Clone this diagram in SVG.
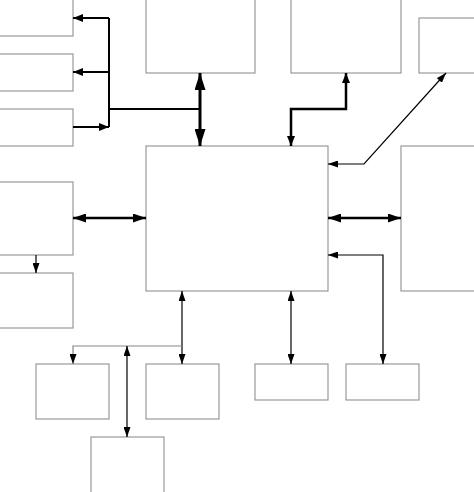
<svg xmlns="http://www.w3.org/2000/svg" width="474" height="492" viewBox="0 0 474 492">
<style>
.box{fill:#fff;stroke:#999;stroke-width:1.2}
.thin{fill:none;stroke:#000;stroke-width:1.2}
.grey{fill:none;stroke:#888;stroke-width:1.2}
.thick{fill:none;stroke:#000;stroke-width:2}
.thick2{fill:none;stroke:#000;stroke-width:2.5}
.thick3{fill:none;stroke:#000;stroke-width:3}
</style>
<defs>
<marker id="a" markerUnits="userSpaceOnUse" markerWidth="10" markerHeight="7" refX="10" refY="3.5" orient="auto-start-reverse"><path d="M0,0 L10,3.5 L0,7 z" fill="#000"/></marker>
<marker id="b" markerUnits="userSpaceOnUse" markerWidth="10" markerHeight="8" refX="10" refY="4" orient="auto-start-reverse"><path d="M0,0 L10,4 L0,8 z" fill="#000"/></marker>
<marker id="c" markerUnits="userSpaceOnUse" markerWidth="17" markerHeight="11" refX="17" refY="5.5" orient="auto-start-reverse"><path d="M0,0 L17,5.5 L0,11 z" fill="#000"/></marker>
<marker id="d" markerUnits="userSpaceOnUse" markerWidth="13" markerHeight="9" refX="13" refY="4.5" orient="auto-start-reverse"><path d="M0,0 L13,4.5 L0,9 z" fill="#000"/></marker>
</defs>
<g id="n1"><rect class="box" x="-2" y="-2" width="75" height="38"/></g>
<g id="n2"><rect class="box" x="-2" y="54" width="75" height="37"/></g>
<g id="n3"><rect class="box" x="-2" y="109" width="75" height="37"/></g>
<g id="n4"><rect class="box" x="-2" y="182" width="75" height="73"/></g>
<g id="n5"><rect class="box" x="-2" y="273" width="75" height="55"/></g>
<g id="n6"><rect class="box" x="36" y="364" width="73" height="55"/></g>
<g id="n7"><rect class="box" x="146" y="364" width="73" height="55"/></g>
<g id="n8"><rect class="box" x="91" y="437" width="73" height="58"/></g>
<g id="n9"><rect class="box" x="146" y="146" width="182" height="145"/></g>
<g id="n10"><rect class="box" x="146" y="-2" width="109" height="75"/></g>
<g id="n11"><rect class="box" x="291" y="-2" width="110" height="75"/></g>
<g id="n12"><rect class="box" x="419" y="18" width="58" height="55"/></g>
<g id="n13"><rect class="box" x="401" y="146" width="76" height="145"/></g>
<g id="n14"><rect class="box" x="255" y="364" width="73" height="36"/></g>
<g id="n15"><rect class="box" x="346" y="364" width="73" height="36"/></g>
<g id="connectors">
<path class="thick" d="M109,18 V127"/>
<path class="thick" d="M109,18 H73" marker-end="url(#b)"/>
<path class="thick" d="M109,72 H73" marker-end="url(#b)"/>
<path class="thick" d="M73,127 H109" marker-end="url(#b)"/>
<path class="thick" d="M109,109 H200"/>
<path class="thick3" d="M200,73 V146" marker-start="url(#c)" marker-end="url(#c)"/>
<path class="thick2" d="M346,73 V109 H291 V146" marker-start="url(#b)" marker-end="url(#b)"/>
<path class="thin" d="M446,73 L364,164 H328" marker-start="url(#a)" marker-end="url(#a)"/>
<path class="thick2" d="M73,218 H146" marker-start="url(#d)" marker-end="url(#d)"/>
<path class="thick2" d="M328,218 H401" marker-start="url(#d)" marker-end="url(#d)"/>
<path class="thin" d="M36,255 V273" marker-end="url(#a)"/>
<path class="thin" d="M182,291 V364" marker-start="url(#a)" marker-end="url(#a)"/>
<path class="grey" d="M182,346 H73 V364" marker-end="url(#a)"/>
<path class="thin" d="M127,346 V437" marker-start="url(#a)" marker-end="url(#a)"/>
<path class="thin" d="M291,291 V364" marker-start="url(#a)" marker-end="url(#a)"/>
<path class="thin" d="M383,364 V255 H328" marker-start="url(#a)" marker-end="url(#a)"/>
</g>
</svg>
